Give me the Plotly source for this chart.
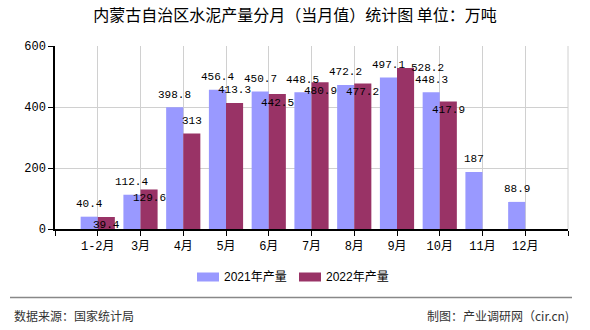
import plotly.graph_objects as go

months = ["1-2月", "3月", "4月", "5月", "6月", "7月", "8月", "9月", "10月", "11月", "12月"]
prod_2021 = [40.4, 112.4, 398.8, 456.4, 450.7, 448.5, 472.2, 497.1, 448.3, 187, 88.9]
prod_2022 = [39.4, 129.6, 313, 413.3, 442.5, 480.9, 477.2, 528.2, 417.9, None, None]
name_2021 = "2021年产量"
name_2022 = "2022年产量"
title = "内蒙古自治区水泥产量分月（当月值）统计图 单位：万吨"
source = "数据来源：国家统计局"
maker = "制图：产业调研网（cir.cn)"

C21 = "#9999FF"
C22 = "#993366"
NUM_FONT = "Liberation Mono, Noto Sans CJK SC, monospace"
CJK_FONT = "Noto Sans CJK SC, sans-serif"

# plot-area geometry (pixels)
L, R, T, B = 55, 568, 46, 229
W, H = 590, 330
YMAX = 600


def px_x(px):
    return (px - L) / (R - L)


def px_y(py):
    return (B - py) / (B - T)


xs = list(range(len(months)))

fig = go.Figure()
fig.add_bar(x=xs, y=prod_2021, name=name_2021, marker=dict(color=C21, line=dict(width=0)), showlegend=False)
fig.add_bar(x=xs, y=prod_2022, name=name_2022, marker=dict(color=C22, line=dict(width=0)), showlegend=False)

# ---- value labels with simple collision avoidance ----
xunit = (R - L) / (len(months) + 1)
yunit = (B - T) / YMAX
CHAR_W = 6.6
LINE_H = 11

placed = []  # (cx, cy, w)


def overlaps(cx, cy, w):
    for (px, py, pw) in placed:
        if abs(cy - py) < LINE_H and abs(cx - px) < (w + pw) / 2:
            return True
    return False


annotations = []
for i, a in enumerate(prod_2021):
    t = f"{a:g}"
    cx = L + xunit * (i + 1 - 0.2)
    cy = B - a * yunit - 12.5
    placed.append((cx, cy, CHAR_W * len(t)))
    annotations.append(dict(x=i - 0.2, y=a, xref="x", yref="y", text=t, showarrow=False,
                            yanchor="middle", yshift=12.5,
                            font=dict(family=NUM_FONT, size=11, color="#000")))

for i, b in enumerate(prod_2022):
    if b is None:
        continue
    t = f"{b:g}"
    w = CHAR_W * len(t)
    bx = L + xunit * (i + 1 + 0.2)
    by = B - b * yunit
    choice = None
    for xs_, ys_ in [(0, 12.5), (0, -8.5), (22, 0)]:
        if not overlaps(bx + xs_, by - ys_, w):
            choice = (xs_, ys_)
            break
    if choice is None:
        choice = (22, 0)
    placed.append((bx + choice[0], by - choice[1], w))
    annotations.append(dict(x=i + 0.2, y=b, xref="x", yref="y", text=t, showarrow=False,
                            yanchor="middle", xshift=choice[0], yshift=choice[1],
                            font=dict(family=NUM_FONT, size=11, color="#000")))

# ---- footer ----
annotations.append(dict(x=px_x(12), y=px_y(315), xref="paper", yref="paper", text=source,
                        showarrow=False, xanchor="left", yanchor="middle",
                        font=dict(family=CJK_FONT, size=12, color="#333")))
annotations.append(dict(x=px_x(571), y=px_y(315), xref="paper", yref="paper", text=maker,
                        showarrow=False, xanchor="right", yanchor="middle",
                        font=dict(family=CJK_FONT, size=12, color="#333")))

# ---- custom legend (wide swatches) ----
shapes = [dict(type="line", xref="paper", yref="paper",
               x0=px_x(10), x1=px_x(572), y0=px_y(297.5), y1=px_y(297.5),
               line=dict(color="#888888", width=1.5))]
legend_items = [(name_2021, C21, 197), (name_2022, C22, 299)]
for name, col, sx in legend_items:
    shapes.append(dict(type="rect", xref="paper", yref="paper",
                       x0=px_x(sx), x1=px_x(sx + 22), y0=px_y(281.5), y1=px_y(272.5),
                       fillcolor=col, line=dict(width=0)))
    annotations.append(dict(x=px_x(sx + 25), y=px_y(277), xref="paper", yref="paper", text=name,
                            showarrow=False, xanchor="left", yanchor="middle",
                            font=dict(family="Liberation Sans, Noto Sans CJK SC, sans-serif", size=12,
                                      color="#000")))

# right-edge gridline
shapes.append(dict(type="line", xref="paper", yref="paper", x0=1, x1=1, y0=0, y1=1,
                   line=dict(color="#d0d0d0", width=1), layer="below"))

fig.update_layout(
    width=W, height=H,
    margin=dict(l=L, r=W - R, t=T, b=H - B),
    paper_bgcolor="white", plot_bgcolor="white",
    barmode="group", bargap=0.2, bargroupgap=0,
    showlegend=False,
    title=dict(text=title, x=0.5, xref="container", xanchor="center",
               y=1 - 15 / H, yref="container", yanchor="middle",
               font=dict(family=CJK_FONT, size=16, color="#000")),
    annotations=annotations,
    shapes=shapes,
    xaxis=dict(range=[-1, len(months)], tickmode="array",
               tickvals=[-1] + xs + [len(months)], ticktext=[""] + months + [""],
               showgrid=True, gridcolor="#d0d0d0", gridwidth=1,
               showline=True, linecolor="#000", linewidth=1.5,
               ticks="outside", ticklen=5, tickcolor="#000",
               tickfont=dict(family=NUM_FONT, size=12, color="#000"), zeroline=False),
    yaxis=dict(range=[0, YMAX], tickmode="array", tickvals=[0, 200, 400, 600],
               showgrid=True, gridcolor="#d0d0d0", gridwidth=1,
               showline=True, linecolor="#000", linewidth=1.5,
               ticks="outside", ticklen=5, tickcolor="#000",
               tickfont=dict(family=NUM_FONT, size=12, color="#000"), zeroline=False),
)

fig.write_html("out.html")
